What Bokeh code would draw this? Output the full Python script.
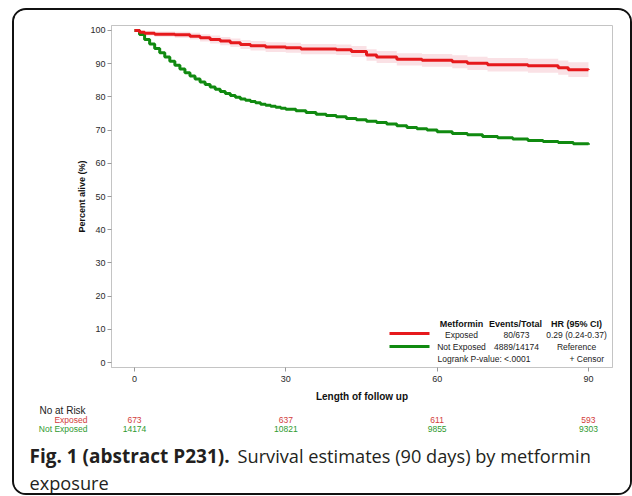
from bokeh.plotting import figure
from bokeh.models import Label, Range1d, FixedTicker
from bokeh.layouts import column, row
from bokeh.embed import file_html
from bokeh.resources import INLINE

# ---------------- data ----------------
risk_times = [0, 30, 60, 90]
risk_exposed = [673, 637, 611, 593]
risk_not_exposed = [14174, 10821, 9855, 9303]

exp_t = [0, 1, 2, 4, 8, 11, 13, 15, 17, 19, 21, 23, 26, 30, 33, 40, 43, 46, 48, 52,
         57, 63, 66, 70, 78, 84, 86, 90]
exp_s = [100, 99.5, 99.2, 98.9, 98.7, 98.3, 97.8, 97.3, 96.8, 96.3, 95.8, 95.4, 95.0,
         94.8, 94.4, 94.2, 93.7, 92.6, 92.0, 91.3, 91.0, 90.6, 90.1, 89.7, 89.4, 88.8,
         88.2, 88.1]
exp_lo = [100, 99.0, 98.5, 98.1, 97.8, 97.3, 96.7, 96.1, 95.55, 95.0, 94.45, 94.0, 93.55,
          93.3, 92.85, 92.6, 92.05, 90.85, 90.2, 89.45, 89.1, 88.65, 88.1, 87.65, 87.3,
          86.65, 86.0, 85.9]
exp_hi = [100, 100.0, 99.9, 99.7, 99.6, 99.3, 98.9, 98.5, 98.05, 97.6, 97.15, 96.8, 96.45,
          96.3, 95.95, 95.8, 95.35, 94.35, 93.8, 93.15, 92.9, 92.55, 92.1, 91.75, 91.5,
          90.95, 90.4, 90.3]

nexp_t = [0, 1, 2, 3, 4, 5, 6, 7, 8, 9, 10, 11, 12, 13, 14, 15, 16, 17, 18, 19, 20,
          21, 22, 23, 24, 25, 26, 27, 28, 29, 30, 32, 34, 36, 38, 40, 42, 44, 46, 48,
          50, 52, 54, 56, 58, 60, 63, 66, 69, 72, 75, 78, 81, 84, 87, 90]
nexp_s = [100, 98.8, 97.3, 95.9, 94.6, 93.3, 92.0, 90.7, 89.5, 88.4, 87.3, 86.3, 85.4,
          84.5, 83.7, 83.0, 82.3, 81.6, 81.0, 80.4, 79.9, 79.4, 79.0, 78.6, 78.2, 77.8,
          77.5, 77.2, 76.9, 76.6, 76.3, 75.8, 75.3, 74.8, 74.4, 74.0, 73.5, 73.1, 72.7,
          72.3, 71.8, 71.3, 70.8, 70.4, 70.0, 69.5, 69.0, 68.6, 68.1, 67.7, 67.3, 66.9,
          66.6, 66.3, 65.9, 65.6]

y_ticks = [0, 10, 20, 30, 40, 50, 60, 70, 80, 90, 100]
groups = ["Exposed", "Not Exposed"]
events = ["80/673", "4889/14174"]
hr = ["0.29 (0.24-0.37)", "Reference"]

RED = "#e6191c"
GREEN = "#108a10"
RED_TXT = "#d23c3c"
GREEN_TXT = "#2f9a2f"
CAPTION = "#231f20"

# ---------------- layout (page pixels) ----------------
X0_PX, X_SCALE = 134, 5.044     # page px of day 0, px per day
Y0_PX, Y_SCALE = 363, 3.33      # page px of 0 %, px per %
BOX_L, BOX_T = 12, 8            # outer rounded box (border 2px)
IN_L, IN_T = BOX_L + 2, BOX_T + 2
IN_W = 616
A_H = 394
B_H = 89
FL, FR, FT, FB = 111, 612, 25, 368   # data frame edges in page px


def dx(px):
    return (px - X0_PX) / X_SCALE


def dy(py):
    return (Y0_PX - py) / Y_SCALE


# ---------------- main chart ----------------
p = figure(width=IN_W, height=A_H, output_backend="svg", toolbar_location=None,
           x_range=Range1d(dx(FL), dx(FR)), y_range=Range1d(dy(FB), dy(FT)),
           min_border_left=FL - IN_L, min_border_right=IN_L + IN_W - FR,
           min_border_top=FT - IN_T, min_border_bottom=A_H - (FB - IN_T))
p.xgrid.visible = False
p.ygrid.visible = False
p.outline_line_color = "#c4c4c4"
p.outline_line_width = 1
p.background_fill_color = "white"
p.border_fill_color = "white"

for ax in (p.xaxis, p.yaxis):
    ax.axis_line_color = "#c4c4c4"
    ax.major_tick_line_color = "#9a9a9a"
    ax.major_tick_out = 4
    ax.major_tick_in = 0
    ax.minor_tick_line_color = None
    ax.major_label_text_font = "Liberation Sans"
    ax.major_label_text_font_size = "9px"
    ax.major_label_text_color = "#2a2a2a"
    ax.axis_label_text_font = "Liberation Sans"
    ax.axis_label_text_font_style = "bold"
    ax.axis_label_text_color = "#111111"

p.xaxis.ticker = FixedTicker(ticks=risk_times)
p.yaxis.ticker = FixedTicker(ticks=y_ticks)
p.xaxis.axis_label = "Length of follow up"
p.yaxis.axis_label = "Percent alive (%)"
p.xaxis.axis_label_text_font_size = "10px"
p.yaxis.axis_label_text_font_size = "9px"
p.xaxis.major_label_standoff = 4
p.yaxis.major_label_standoff = 2
p.xaxis.axis_label_standoff = 6
p.yaxis.axis_label_standoff = 0

p.varea_step(x=exp_t, y1=exp_lo, y2=exp_hi, step_mode="after",
             fill_color="#f6c9cf", fill_alpha=0.55)
p.step(nexp_t, nexp_s, mode="after", line_color=GREEN, line_width=3)
p.step(exp_t, exp_s, mode="after", line_color=RED, line_width=3)

# inset legend table
p.line([dx(389), dx(429)], [dy(334), dy(334)], line_color=RED, line_width=3)
p.line([dx(389), dx(429)], [dy(347), dy(347)], line_color=GREEN, line_width=3)


def txt(fig, x, y, text, size="8.5px", color="#222222", align="center",
        style="normal", font="Liberation Sans"):
    fig.add_layout(Label(x=x, y=y, text=text, text_font=font,
                         text_font_size=size, text_color=color, text_align=align,
                         text_baseline="middle", text_font_style=style))


txt(p, dx(461), dy(324), "Metformin", size="9px", style="bold", color="#111111")
txt(p, dx(515), dy(324), "Events/Total", size="9px", style="bold", color="#111111")
txt(p, dx(576), dy(324), "HR (95% CI)", size="9px", style="bold", color="#111111")
for i, yy in enumerate([335, 347]):
    txt(p, dx(461), dy(yy), groups[i])
    txt(p, dx(516), dy(yy), events[i])
    txt(p, dx(576), dy(yy), hr[i])
txt(p, dx(437), dy(359), "Logrank P-value: <.0001", align="left")
txt(p, dx(606), dy(359), "+  Censor", align="right")

# ---------------- number at risk + caption panel ----------------
B_TOP = IN_T + A_H
q = figure(width=IN_W, height=B_H, output_backend="svg", toolbar_location=None,
           x_range=Range1d(dx(IN_L), dx(IN_L + IN_W)),
           y_range=Range1d(B_TOP + B_H, B_TOP),
           min_border_left=0, min_border_right=0, min_border_top=0,
           min_border_bottom=0, x_axis_type=None, y_axis_type=None)
q.xgrid.visible = False
q.ygrid.visible = False
q.outline_line_color = None
q.border_fill_color = "white"

txt(q, dx(39), 410, "No at Risk", size="10px", align="left", color="#222222")
txt(q, dx(87), 419, "Exposed", align="right", color=RED_TXT)
txt(q, dx(87), 428, "Not Exposed", align="right", color=GREEN_TXT)
for t, ne, nn in zip(risk_times, risk_exposed, risk_not_exposed):
    txt(q, t, 419, str(ne), color=RED_TXT)
    txt(q, t, 428, str(nn), color=GREEN_TXT)

txt(q, dx(29), 455, "Fig. 1 (abstract P231).", size="19px", style="bold",
    align="left", color=CAPTION, font="Open Sans")
txt(q, dx(237), 455, "Survival estimates (90 days) by metformin", size="18.2px",
    align="left", color=CAPTION, font="Open Sans")
txt(q, dx(29), 482, "exposure", size="18.2px", align="left", color=CAPTION,
    font="Open Sans")

layout = column(p, row(q, spacing=0), spacing=0, margin=(BOX_T, 0, 0, BOX_L),
                styles={"border": "2px solid #111111", "border-radius": "14px",
                        "background-color": "white", "overflow": "hidden"})

open("out.html", "w").write(file_html(layout, INLINE))
